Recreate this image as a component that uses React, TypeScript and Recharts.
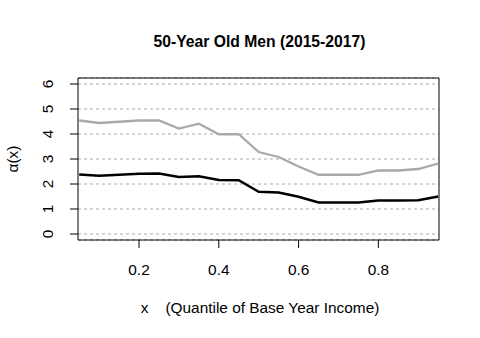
import {
  CartesianGrid,
  Customized,
  Line,
  LineChart,
  ReferenceArea,
  XAxis,
  YAxis,
} from "recharts";

const FONT = "'Liberation Sans', Arial, sans-serif";

const QUANTILES = [0.05, 0.1, 0.15, 0.2, 0.25, 0.3, 0.35, 0.4, 0.45, 0.5, 0.55, 0.6, 0.65, 0.7, 0.75, 0.8, 0.85, 0.9, 0.95];
const UPPER = [4.54, 4.44, 4.49, 4.54, 4.54, 4.22, 4.41, 3.99, 3.99, 3.28, 3.08, 2.7, 2.37, 2.37, 2.37, 2.54, 2.54, 2.6, 2.82];
const LOWER = [2.38, 2.33, 2.37, 2.41, 2.42, 2.28, 2.31, 2.16, 2.15, 1.69, 1.66, 1.49, 1.26, 1.26, 1.26, 1.34, 1.34, 1.35, 1.5];
const X_TICKS = [0.2, 0.4, 0.6, 0.8];
const Y_TICKS = [0, 1, 2, 3, 4, 5, 6];
const X_DOMAIN: [number, number] = [0.047, 0.952];
const Y_DOMAIN: [number, number] = [-0.24, 6.24];

const data = QUANTILES.map((q, i) => ({ q, upper: UPPER[i], lower: LOWER[i] }));

function YTick({ y, payload }: any) {
  return (
    <text
      x={53}
      y={y}
      transform={`rotate(-90, 53, ${y})`}
      textAnchor="middle"
      fontSize={15.4}
      fontFamily={FONT}
      fill="#000"
    >
      {payload.value}
    </text>
  );
}

function XTick({ x, payload }: any) {
  return (
    <text x={x} y={275} textAnchor="middle" fontSize={15.4} fontFamily={FONT} fill="#000">
      {payload.value.toFixed(1)}
    </text>
  );
}

function Labels() {
  return (
    <g fontFamily={FONT} fill="#000">
      <text x={259.5} y={46.5} textAnchor="middle" fontSize={15.7} fontWeight="bold">
        50-Year Old Men (2015-2017)
      </text>
      <text x={260} y={313} textAnchor="middle" fontSize={15.4} style={{ whiteSpace: "pre" }}>
        {"x    (Quantile of Base Year Income)"}
      </text>
      <text
        x={18}
        y={159}
        transform="rotate(-90, 18, 159)"
        textAnchor="middle"
        fontSize={15.4}
      >
        α(x)
      </text>
    </g>
  );
}

export default function App() {
  return (
    <div style={{ position: "absolute", left: 0, top: 0, width: 480, height: 338, background: "#fff" }}>
      <LineChart
        width={480}
        height={338}
        data={data}
        margin={{ top: 78, right: 41, left: 0, bottom: 0 }}
      >
        <CartesianGrid horizontal vertical={false} stroke="#a8a8a8" strokeDasharray="3 3" />
        <XAxis
          dataKey="q"
          type="number"
          domain={X_DOMAIN}
          ticks={X_TICKS}
          height={98}
          tickSize={8}
          axisLine={false}
          tickLine={{ stroke: "#000" }}
          tick={<XTick />}
          allowDataOverflow
        />
        <YAxis
          type="number"
          domain={Y_DOMAIN}
          ticks={Y_TICKS}
          width={78}
          tickSize={8}
          axisLine={false}
          tickLine={{ stroke: "#000" }}
          tick={<YTick />}
          allowDataOverflow
        />
        <Line
          type="linear"
          dataKey="upper"
          stroke="#a9a9a9"
          strokeWidth={2.3}
          dot={false}
          isAnimationActive={false}
        />
        <Line
          type="linear"
          dataKey="lower"
          stroke="#000"
          strokeWidth={2.5}
          dot={false}
          isAnimationActive={false}
        />
        <ReferenceArea
          x1={X_DOMAIN[0]}
          x2={X_DOMAIN[1]}
          y1={Y_DOMAIN[0]}
          y2={Y_DOMAIN[1]}
          fill="none"
          fillOpacity={0}
          stroke="#000"
          strokeWidth={1}
        />
        <Customized component={Labels} />
      </LineChart>
    </div>
  );
}
